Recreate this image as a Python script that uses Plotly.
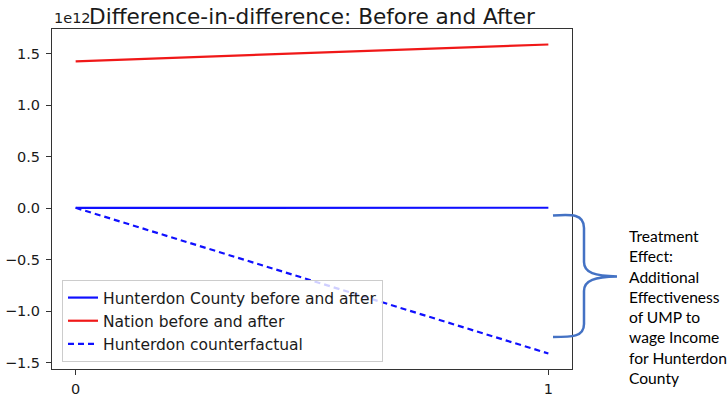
import plotly.graph_objects as go

# Period index (0 = before, 1 = after)
periods = [0, 1]

# Wage income series
hunterdon = [3.5e9, 4.0e9]
nation = [1.425e12, 1.588e12]
counterfactual = [3.5e9, -1.41e12]

# Axis ticks (values shown with a 1e12 multiplier)
y_tick_vals = [-1.5e12, -1.0e12, -0.5e12, 0.0, 0.5e12, 1.0e12, 1.5e12]
y_tick_text = ["\u22121.5", "\u22121.0", "\u22120.5", "0.0", "0.5", "1.0", "1.5"]
x_tick_vals = [0, 1]
x_tick_text = ["0", "1"]

effect_text = ["Treatment", "Effect:", "Additional", "Effectiveness",
               "of UMP to", "wage Income", "for Hunterdon", "County"]

W, H = 728, 396
L, R, T, B = 52, 572, 29, 369  # plot-area edges in pixels


def px(x):
    return (x - L) / (R - L)


def py(y):
    return (B - y) / (B - T)


FONT = "DejaVu Sans"
INK = "#1a1a1a"

fig = go.Figure()
fig.add_trace(go.Scatter(x=periods, y=hunterdon, mode="lines",
                         name="Hunterdon County before and after",
                         line=dict(color="#1010ff", width=2.2)))
fig.add_trace(go.Scatter(x=periods, y=nation, mode="lines",
                         name="Nation before and after",
                         line=dict(color="#f01818", width=2.2)))
fig.add_trace(go.Scatter(x=periods, y=counterfactual, mode="lines",
                         name="Hunterdon counterfactual",
                         line=dict(color="#1010ff", width=2.2, dash="6px,4px")))

# Curly brace marking the treatment effect
pts = [
    "M", (553, 215.5),
    "C", (572, 214), (584, 214), (584, 228),
    "L", (584, 262),
    "C", (584, 273), (595, 276), (617, 276.5),
    "C", (595, 277), (584, 280), (584, 291),
    "L", (584, 324),
    "C", (584, 337), (572, 337), (553, 337),
]
path = ""
for p in pts:
    if isinstance(p, str):
        path += " " + p
    else:
        path += " %.5f,%.5f" % (px(p[0]), py(p[1]))

fig.add_shape(type="path", path=path.strip(), xref="paper", yref="paper",
              line=dict(color="#4472c4", width=2.5))

fig.add_annotation(text="<br>".join(effect_text), xref="paper", yref="paper",
                   x=px(627), y=py(306.5), xanchor="left", yanchor="middle",
                   align="left", showarrow=False,
                   font=dict(family="Lato", size=15.6, color="#000000"))

# Scale multiplier label
fig.add_annotation(text="1e12", xref="paper", yref="paper", x=0, y=1,
                   xanchor="left", yanchor="bottom", yshift=1, showarrow=False,
                   font=dict(family=FONT, size=14.5, color=INK))

fig.update_layout(
    width=W, height=H,
    margin=dict(l=L, r=W - R, t=T, b=H - B, autoexpand=False),
    paper_bgcolor="white", plot_bgcolor="white",
    title=dict(text="Difference-in-difference: Before and After",
               x=0.5, xref="paper", xanchor="center",
               y=1, yref="paper", yanchor="bottom", pad=dict(b=5),
               font=dict(family=FONT, size=21.6, color=INK)),
    showlegend=True,
    legend=dict(x=px(62), y=py(362), xanchor="left", yanchor="bottom",
                bgcolor="rgba(255,255,255,0.8)", bordercolor="#cccccc",
                borderwidth=1, font=dict(family=FONT, size=15.5, color=INK),
                tracegroupgap=0),
    font=dict(family=FONT, color=INK),
)

fig.update_xaxes(range=[-0.05, 1.05], tickvals=x_tick_vals, ticktext=x_tick_text,
                 automargin=False, ticklabelstandoff=2,
                 showgrid=False, zeroline=False, showline=True, mirror=True,
                 linecolor="#333333", linewidth=1, ticks="outside", ticklen=5,
                 tickcolor="#333333", tickfont=dict(family=FONT, size=14.5, color=INK))
fig.update_yaxes(range=[-1.5605e12, 1.7385e12], tickvals=y_tick_vals, ticktext=y_tick_text,
                 automargin=False, ticklabelstandoff=3,
                 showgrid=False, zeroline=False, showline=True, mirror=True,
                 linecolor="#333333", linewidth=1, ticks="outside", ticklen=5,
                 tickcolor="#333333", tickfont=dict(family=FONT, size=14.5, color=INK))

fig.write_html("out.html")
